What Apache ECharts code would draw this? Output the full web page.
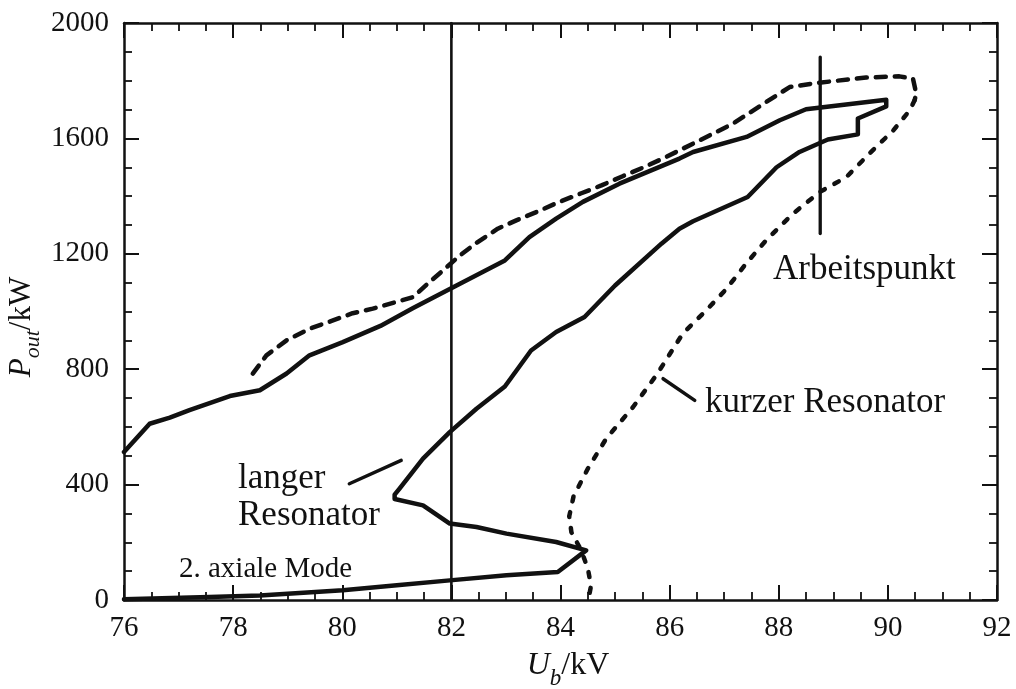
<!DOCTYPE html>
<html><head><meta charset="utf-8">
<script src="https://cdn.jsdelivr.net/npm/echarts@6/dist/echarts.min.js"></script>
<style>html,body{margin:0;padding:0;background:#fff}#c{width:1016px;height:689px}</style>
</head><body><div id="c"></div>
<script>
// ---- tick labels ----
const xTickLabels = [76, 78, 80, 82, 84, 86, 88, 90, 92];
const yTickLabels = [0, 400, 800, 1200, 1600, 2000];

// ---- "langer Resonator" (solid): upper branch, return branch, 2. axiale Mode ----
const langerResonator = [
  [76.0, 513], [76.47, 611], [76.84, 632], [77.2, 658], [77.94, 707], [78.49, 727],
  [78.98, 785], [79.4, 848], [80.01, 894], [80.7, 950], [81.3, 1012], [81.98, 1079],
  [82.98, 1177], [83.43, 1258], [83.92, 1322], [84.41, 1380], [85.08, 1443],
  [86.18, 1530], [86.43, 1553], [87.41, 1605], [88.02, 1663], [88.5, 1701],
  [89.97, 1734], [89.97, 1711], [89.45, 1669], [89.45, 1614], [88.9, 1596],
  [88.38, 1553], [87.96, 1500], [87.43, 1397], [86.43, 1313], [86.18, 1287],
  [85.85, 1235], [85.0, 1090], [84.44, 981], [83.92, 929], [83.46, 865],
  [82.98, 740], [82.46, 663], [81.97, 582], [81.48, 490], [81.05, 386],
  [80.96, 365], [80.96, 350], [81.48, 328], [81.97, 265], [82.46, 253],
  [83.01, 230], [83.92, 201], [84.47, 172], [83.95, 97], [83.01, 86],
  [81.97, 68], [81.0, 51], [80.01, 34], [78.49, 16], [77.57, 10], [76.0, 3]
];

// ---- "kurzer Resonator": upper dashed part ----
const kurzerUpper = [
  [78.36, 785], [78.61, 848], [78.98, 900], [79.4, 940], [79.83, 969], [80.19, 994],
  [80.56, 1010], [80.93, 1030], [81.3, 1050], [81.57, 1097], [81.85, 1143],
  [82.14, 1192], [82.46, 1238], [82.85, 1287], [83.19, 1316], [83.6, 1348],
  [83.98, 1380], [84.37, 1409], [84.75, 1437], [85.14, 1469], [85.54, 1501],
  [85.94, 1536], [86.43, 1582], [87.16, 1651], [87.77, 1726], [88.2, 1778],
  [88.69, 1792], [89.6, 1811], [90.21, 1815], [90.46, 1807], [90.52, 1755], [90.49, 1732]
];

// ---- "kurzer Resonator": descending dotted part ----
const kurzerLower = [
  [90.49, 1732], [90.4, 1697], [90.1, 1628], [89.66, 1547], [89.24, 1466],
  [88.75, 1414], [88.26, 1339], [87.77, 1247], [87.4, 1166], [87.04, 1078],
  [86.67, 1004], [86.24, 923], [85.76, 780], [85.33, 669], [84.84, 560],
  [84.5, 455], [84.24, 360], [84.16, 290], [84.2, 235], [84.38, 172],
  [84.5, 110], [84.56, 50], [84.53, 20]
];

// ---- reference lines and pointers ----
const line82 = [[82, 0], [82, 2000]];
const arbeitspunkt = [[88.76, 1270], [88.76, 1882]];
const pointerLanger = [[80.13, 403], [81.08, 484]];
const pointerKurzer = [[85.88, 767], [86.46, 692]];

const FONT = '"Liberation Serif", "Times New Roman", serif';
const BLACK = '#111';

function lineSeries(data, width, type) {
  return {
    type: 'line', data: data, symbol: 'none', showSymbol: false, silent: true,
    xAxisIndex: 0, yAxisIndex: 0, animation: false,
    lineStyle: { color: BLACK, width: width, type: type || 'solid', cap: 'round', join: 'round' }
  };
}

function axisCommon(pos, showLabel, isX) {
  return {
    type: 'value', position: pos,
    min: isX ? 76 : 0, max: isX ? 92 : 2000, interval: isX ? 2 : 400,
    axisLine: { show: true, onZero: false, lineStyle: { color: BLACK, width: 2.5 } },
    axisTick: { show: true, inside: true, length: 15, lineStyle: { color: BLACK, width: 2 } },
    minorTick: { show: true, splitNumber: 4, length: 8, lineStyle: { color: BLACK, width: 1.8 } },
    splitLine: { show: false }, minorSplitLine: { show: false },
    axisLabel: {
      show: showLabel, color: BLACK, fontFamily: FONT, fontSize: 29,
      margin: isX ? 14 : 15,
      formatter: function (v) {
        const arr = isX ? xTickLabels : yTickLabels;
        return arr.indexOf(v) >= 0 ? String(v) : '';
      }
    }
  };
}

const chart = echarts.init(document.getElementById('c'), null, { renderer: 'canvas' });
chart.setOption({
  backgroundColor: '#fff',
  animation: false,
  grid: { left: 124, right: 19, top: 23, bottom: 89, containLabel: false },
  xAxis: [axisCommon('bottom', true, true), axisCommon('top', false, true)],
  yAxis: [axisCommon('left', true, false), axisCommon('right', false, false)],
  series: [
    lineSeries(line82, 2.6),
    lineSeries(arbeitspunkt, 3.3),
    lineSeries(langerResonator, 4.5),
    lineSeries(kurzerUpper, 4.5, [10, 9]),
    lineSeries(kurzerLower, 4.5, [5, 11]),
    lineSeries(pointerLanger, 3.5),
    lineSeries(pointerKurzer, 3.5)
  ],
  graphic: [
    { type: 'text', x: 773, y: 270, style: { text: 'Arbeitspunkt', font: '35px ' + FONT, fill: BLACK, align: 'left', verticalAlign: 'middle' } },
    { type: 'text', x: 705, y: 403, style: { text: 'kurzer Resonator', font: '35px ' + FONT, fill: BLACK, align: 'left', verticalAlign: 'middle' } },
    { type: 'text', x: 238, y: 479, style: { text: 'langer', font: '35px ' + FONT, fill: BLACK, align: 'left', verticalAlign: 'middle' } },
    { type: 'text', x: 238, y: 516, style: { text: 'Resonator', font: '35px ' + FONT, fill: BLACK, align: 'left', verticalAlign: 'middle' } },
    { type: 'text', x: 179, y: 569, style: { text: '2. axiale Mode', font: '29px ' + FONT, fill: BLACK, align: 'left', verticalAlign: 'middle' } },
    { type: 'text', x: 568, y: 650, style: {
        text: '{i|U}{s|b}{r|/kV}', align: 'center', verticalAlign: 'top', fill: BLACK,
        rich: {
          i: { fontFamily: FONT, fontSize: 32, fontStyle: 'italic', verticalAlign: 'top', fill: BLACK },
          s: { fontFamily: FONT, fontSize: 23, fontStyle: 'italic', verticalAlign: 'top', padding: [17, 0, 0, 0], fill: BLACK },
          r: { fontFamily: FONT, fontSize: 32, verticalAlign: 'top', fill: BLACK }
        } } },
    { type: 'text', x: 6, y: 327, rotation: Math.PI / 2, style: {
        text: '{i|P}{s|out}{r|/kW}', align: 'center', verticalAlign: 'top', fill: BLACK,
        rich: {
          i: { fontFamily: FONT, fontSize: 31, fontStyle: 'italic', verticalAlign: 'top', fill: BLACK },
          s: { fontFamily: FONT, fontSize: 22, fontStyle: 'italic', verticalAlign: 'top', padding: [16, 0, 0, 0], fill: BLACK },
          r: { fontFamily: FONT, fontSize: 31, verticalAlign: 'top', fill: BLACK }
        } } }
  ]
});
</script>
</body></html>
